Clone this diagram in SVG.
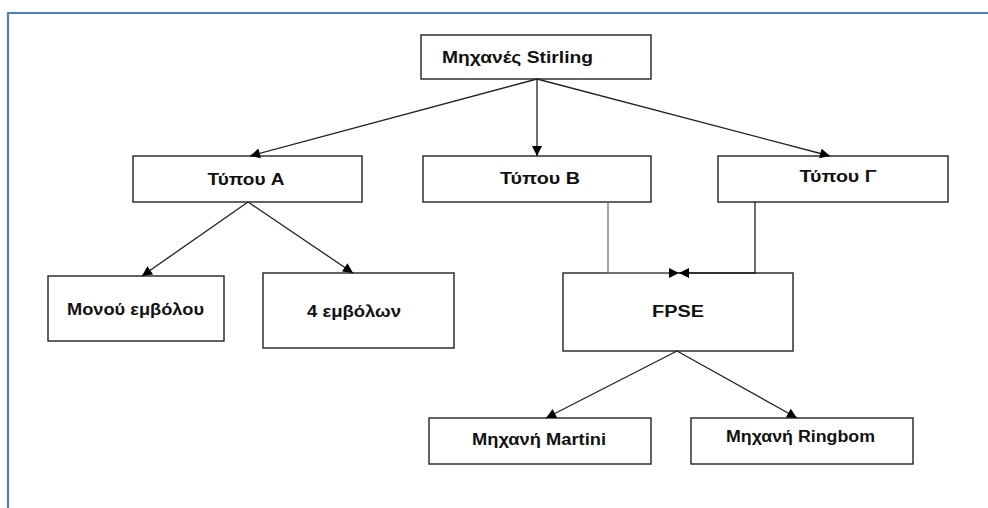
<svg xmlns="http://www.w3.org/2000/svg" width="988" height="508" viewBox="0 0 988 508">
<defs>
<marker id="ah" viewBox="0 0 10 10" refX="10" refY="5" markerWidth="11" markerHeight="10" markerUnits="userSpaceOnUse" orient="auto">
<path d="M0,0 L10,5 L0,10 Z" fill="#000"/>
</marker>
</defs>
<style>
.box{fill:#fff;stroke:#222;stroke-width:1.4}
.t{font-family:"Liberation Sans",Arial,sans-serif;font-weight:bold;font-size:16px;fill:#111}
.c{fill:none;stroke:#222;stroke-width:1.3}
.g{fill:none;stroke:#777;stroke-width:1.3}
</style>
<rect width="988" height="508" fill="#fff"/>
<path d="M8,508 V13 H988" fill="none" stroke="#4f81bd" stroke-width="2.2"/>
<g id="n-stirling">
<rect class="box" x="421" y="35" width="230" height="44"/>
<text class="t" x="442" y="63" textLength="151" lengthAdjust="spacingAndGlyphs">Μηχανές Stirling</text>
</g>
<g id="n-typeA">
<rect class="box" x="133" y="156" width="229" height="46"/>
<text class="t" x="246" y="185" text-anchor="middle" textLength="77" lengthAdjust="spacingAndGlyphs">Τύπου A</text>
</g>
<g id="n-typeB">
<rect class="box" x="423" y="156" width="228" height="46"/>
<text class="t" x="540" y="184" text-anchor="middle" textLength="80" lengthAdjust="spacingAndGlyphs">Τύπου B</text>
</g>
<g id="n-typeG">
<rect class="box" x="718" y="156" width="230" height="46"/>
<text class="t" x="838" y="182" text-anchor="middle" textLength="77" lengthAdjust="spacingAndGlyphs">Τύπου Γ</text>
</g>
<g id="n-mono">
<rect class="box" x="48" y="276" width="176" height="65"/>
<text class="t" x="67" y="315" textLength="137" lengthAdjust="spacingAndGlyphs">Μονού εμβόλου</text>
</g>
<g id="n-four">
<rect class="box" x="263" y="273" width="191" height="75"/>
<text class="t" x="307" y="317" textLength="94" lengthAdjust="spacingAndGlyphs">4 εμβόλων</text>
</g>
<g id="n-fpse">
<rect class="box" x="563" y="273" width="230" height="78"/>
<text class="t" x="652" y="317" textLength="52" lengthAdjust="spacingAndGlyphs">FPSE</text>
</g>
<g id="n-martini">
<rect class="box" x="429" y="418" width="222" height="46"/>
<text class="t" x="472" y="445" textLength="134" lengthAdjust="spacingAndGlyphs">Μηχανή Martini</text>
</g>
<g id="n-ringbom">
<rect class="box" x="691" y="418" width="222" height="46"/>
<text class="t" x="726" y="442" textLength="149" lengthAdjust="spacingAndGlyphs">Μηχανή Ringbom</text>
</g>
<g id="connectors">
<line class="c" x1="537" y1="79" x2="250" y2="156" marker-end="url(#ah)"/>
<line class="c" x1="537" y1="79" x2="537" y2="156" marker-end="url(#ah)"/>
<line class="c" x1="537" y1="79" x2="830" y2="156" marker-end="url(#ah)"/>
<line class="c" x1="248" y1="202" x2="142" y2="276" marker-end="url(#ah)"/>
<line class="c" x1="248" y1="202" x2="353" y2="273" marker-end="url(#ah)"/>
<polyline class="g" points="608,202 608,273 679,273" marker-end="url(#ah)"/>
<polyline class="c" points="755,202 755,273 679,273" marker-end="url(#ah)"/>
<line class="c" x1="677" y1="351" x2="546" y2="418" marker-end="url(#ah)"/>
<line class="c" x1="677" y1="351" x2="797" y2="418" marker-end="url(#ah)"/>
</g>
</svg>
